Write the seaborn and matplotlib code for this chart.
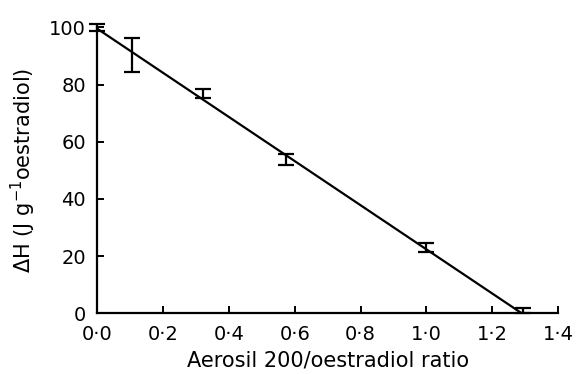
import matplotlib
matplotlib.use("Agg")
import matplotlib.pyplot as plt
import seaborn as sns
import pandas as pd
from matplotlib.ticker import FixedLocator, FixedFormatter

# Data
ratio = [0.0, 0.107, 0.322, 0.572, 1.0, 1.293]
delta_h = [100.0, 90.3, 76.8, 53.8, 23.0, 1.0]
delta_h_err = [1.2, 5.8, 1.6, 1.9, 1.5, 0.9]
fit_x = [0.0, 1.29]
fit_y = [99.5, 0.0]
x_ticks = [0.0, 0.2, 0.4, 0.6, 0.8, 1.0, 1.2, 1.4]
x_tick_labels = ["0·0", "0·2", "0·4", "0·6", "0·8", "1·0", "1·2", "1·4"]
y_ticks = [0, 20, 40, 60, 80, 100]

sns.set_theme(style="ticks")
plt.rcParams['font.family'] = ['DejaVu Sans']

fig = plt.figure(figsize=(5.79, 3.74), dpi=100)
ax = fig.add_axes([0.168, 0.162, 0.796, 0.765])

fit_df = pd.DataFrame({"x": fit_x, "y": fit_y})
sns.lineplot(data=fit_df, x="x", y="y", ax=ax, color="black", lw=1.6)
ax.errorbar(ratio, delta_h, yerr=delta_h_err, fmt="none", ecolor="black",
            elinewidth=1.6, capsize=5.5, capthick=1.6, clip_on=False)

ax.set_xlim(0, 1.4)
ax.set_ylim(0, 100)
ax.xaxis.set_major_locator(FixedLocator(x_ticks))
ax.xaxis.set_major_formatter(FixedFormatter(x_tick_labels))
ax.set_yticks(y_ticks)

sns.despine(ax=ax)
for s in ["left", "bottom"]:
    ax.spines[s].set_linewidth(1.6)
    ax.spines[s].set_color("black")
ax.tick_params(direction="in", length=5, width=1.4, colors="black",
               labelsize=14, pad=8)

ax.set_xlabel("Aerosil 200/oestradiol ratio", fontsize=15, labelpad=5,
              color="black")
ax.set_ylabel("ΔH (J g$^{-1}$oestradiol)", fontsize=15, labelpad=8,
              color="black")

fig.savefig("out.png", dpi=100)
